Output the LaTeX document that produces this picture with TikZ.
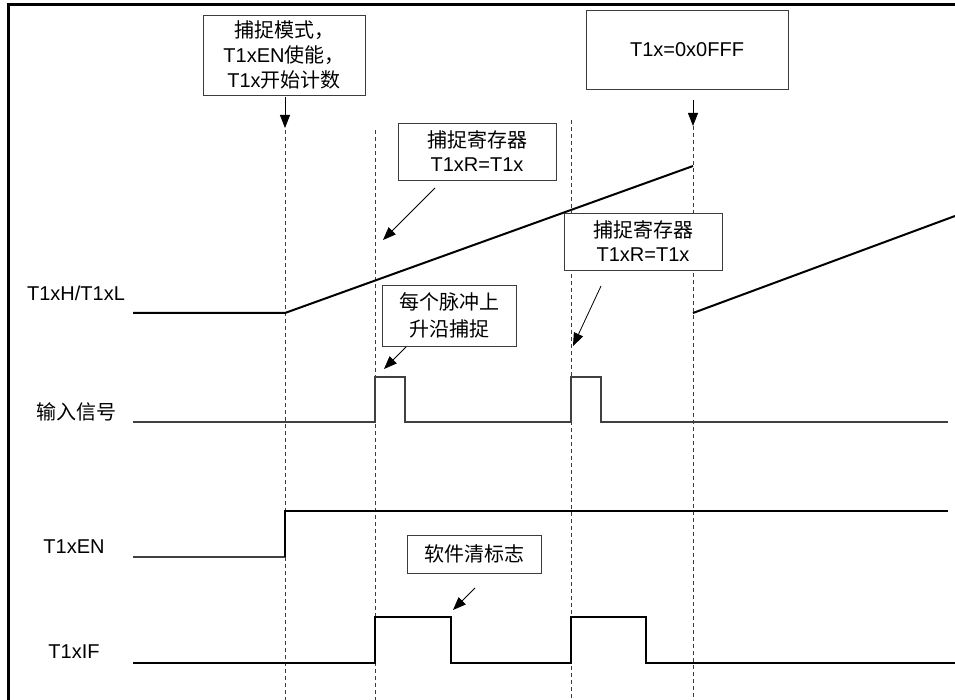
\documentclass[tikz,border=0pt]{standalone}
\usepackage{fontspec}
\setmainfont{Liberation Sans}
\newfontfamily\cjkfont{Noto Sans CJK SC}
\newcommand\zh[1]{{\cjkfont #1}}
\usetikzlibrary{arrows.meta}
\definecolor{boxgray}{RGB}{60,60,60}
\definecolor{guidegray}{RGB}{60,60,60}
\begin{document}
\begin{tikzpicture}[x=1pt,y=-1pt,
  box/.style={draw=boxgray, fill=white, line width=0.9pt, inner sep=0pt, align=center,
    font=\fontsize{20}{24}\selectfont, text=black},
  lbl/.style={inner sep=0pt, font=\fontsize{20}{24}\selectfont},
  sig/.style={line width=1.3pt, black},
  greysig/.style={line width=1.3pt, black!75},
  ramp/.style={line width=2pt, black},
  guide/.style={dash pattern=on 4pt off 3pt, line width=1pt, guidegray},
  pointer/.style={-{Triangle[length=13pt,width=10pt]}, line width=0.8pt, black},
  frame/.style={line width=3pt, black}]
\useasboundingbox (0,0) rectangle (955,700);
% frame
\coordinate (fl) at (8,700); \coordinate (fc) at (8,5); \coordinate (fr) at (955,5);
\draw[frame] (fl) -- (fc) -- (fr);

% guides
\coordinate (g1t) at (285,130); \coordinate (g1b) at (285,700);
\coordinate (g2t) at (375,130); \coordinate (g2b) at (375,700);
\coordinate (g3t) at (571,120); \coordinate (g3b) at (571,700);
\coordinate (g4t) at (693,126); \coordinate (g4b) at (693,700);
\draw[guide] (g1t) -- (g1b);
\draw[guide] (g2t) -- (g2b);
\draw[guide] (g3t) -- (g3b);
\draw[guide] (g4t) -- (g4b);

% labels
\node[lbl] (l1) at (76,293) {T1xH/T1xL};
\node[lbl] (l2) at (76,412) {\zh{输入信号}};
\node[lbl] (l3) at (74,547) {T1xEN};
\node[lbl] (l4) at (74,652) {T1xIF};

% counter ramp
\draw[ramp] (133,313) -- (285,313) -- (693,166);
\draw[ramp] (693,313) -- (955,216);

% input signal
\draw[greysig] (133,422) -- (375,422) -- (375,377) -- (405,377) -- (405,422)
  -- (571,422) -- (571,377) -- (601,377) -- (601,422) -- (948,422);
% enable
\draw[greysig] (133,557) -- (285,557);
\draw[sig] (285,557) -- (285,511) -- (948,511);
% flag
\draw[sig] (133,663) -- (375,663) -- (375,617) -- (451,617) -- (451,663)
  -- (571,663) -- (571,617) -- (646,617) -- (646,663) -- (955,663);

% boxes
\node[box, minimum width=162pt, minimum height=80pt, font=\fontsize{20}{25}\selectfont] (b1) at (284,55)
  {\zh{捕捉模式，}\\T1xEN\zh{使能，}\\T1x\zh{开始计数}};
\node[box, minimum width=158pt, minimum height=57pt] (b2) at (477,151.5)
  {\zh{捕捉寄存器}\\T1xR=T1x};
\node[box, minimum width=202pt, minimum height=79pt] (b3) at (687,49.5)
  {T1x=0x0FFF};
\node[box, minimum width=158pt, minimum height=57pt] (b4) at (643,241.5)
  {\zh{捕捉寄存器}\\T1xR=T1x};
\node[box, minimum width=134pt, minimum height=61pt, font=\fontsize{20}{27}\selectfont] (b5) at (449,315.5)
  {\zh{每个脉冲上}\\\zh{升沿捕捉}};
\node[box, minimum width=134pt, minimum height=38pt] (b6) at (474,554)
  {\zh{软件清标志}};

% pointers
\coordinate (p1s) at (285,97);  \coordinate (p1e) at (285,128);
\coordinate (p2s) at (435,188); \coordinate (p2e) at (383,240);
\coordinate (p3s) at (693,100); \coordinate (p3e) at (693,126);
\coordinate (p4s) at (601,286); \coordinate (p4e) at (573,346);
\coordinate (p5s) at (406,347); \coordinate (p5e) at (384,369);
\coordinate (p6s) at (475,588); \coordinate (p6e) at (453,610);
\draw[pointer] (p1s) -- (p1e);
\draw[pointer] (p2s) -- (p2e);
\draw[pointer] (p3s) -- (p3e);
\draw[pointer] (p4s) -- (p4e);
\draw[pointer] (p5s) -- (p5e);
\draw[pointer] (p6s) -- (p6e);
\end{tikzpicture}
\end{document}
